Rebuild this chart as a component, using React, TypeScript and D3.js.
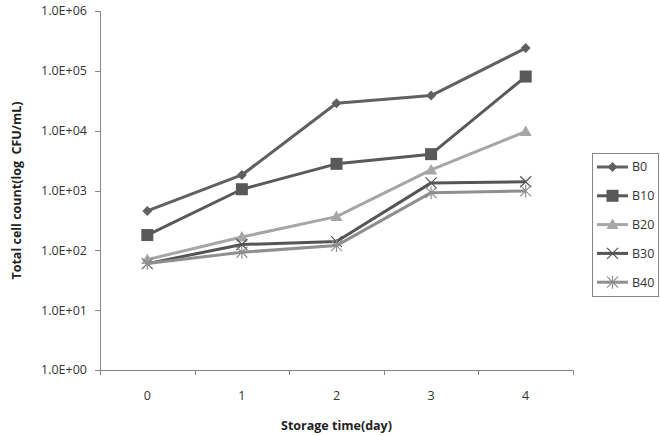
import * as d3 from 'd3';

const days = ['0', '1', '2', '3', '4'];
const seriesNames = ['B0', 'B10', 'B20', 'B30', 'B40'];
const b0 = [455, 1820, 28800, 38600, 240000];
const b10 = [180, 1050, 2790, 4050, 80300];
const b20 = [70, 167, 366, 2210, 9660];
const b30 = [60, 125, 140, 1340, 1400];
const b40 = [60, 93, 120, 920, 985];
const yTicks = [1, 10, 100, 1000, 10000, 100000, 1000000];

const seriesValues = [b0, b10, b20, b30, b40];
const colors = ['#606060', '#595959', '#a6a6a6', '#555555', '#8f8f8f'];
const shapes = ['diamond', 'square', 'triangle', 'x', 'star'];

const W = 660;
const H = 436;
const left = 100;
const right = 573;
const top = 11;
const bottom = 370;
const font = '"Open Sans", "Liberation Sans", sans-serif';
const fs = 12.5;

function Marker({ shape, x, y, color }: { shape: string; x: number; y: number; color: string }) {
  if (shape === 'diamond') {
    const s = 5;
    return <path d={`M${x},${y - s}L${x + s},${y}L${x},${y + s}L${x - s},${y}Z`} fill={color} />;
  }
  if (shape === 'square') {
    return <rect x={x - 6} y={y - 6} width={12} height={12} fill={color} />;
  }
  if (shape === 'triangle') {
    return <path d={`M${x},${y - 6}L${x + 6},${y + 4.5}L${x - 6},${y + 4.5}Z`} fill={color} />;
  }
  if (shape === 'x') {
    const s = 5.5;
    return (
      <path d={`M${x - s},${y - s}L${x + s},${y + s}M${x - s},${y + s}L${x + s},${y - s}`} stroke={color} strokeWidth={1.2} />
    );
  }
  const s = 5.5;
  return (
    <path
      d={`M${x - s},${y - s}L${x + s},${y + s}M${x - s},${y + s}L${x + s},${y - s}M${x},${y - s - 1}L${x},${y + s + 1}`}
      stroke={color}
      strokeWidth={1.2}
    />
  );
}

export default function App() {
  const x = d3.scaleBand<string>().domain(days).range([left, right]);
  const y = d3.scaleLog().domain([1, 1e6]).range([bottom, top]);
  const cx = (d: string) => (x(d) ?? 0) + x.bandwidth() / 2;
  const line = d3
    .line<number>()
    .x((_, i) => cx(days[i]))
    .y((v) => y(v));
  const fmt = (v: number) => '1.0E+' + String(Math.round(Math.log10(v))).padStart(2, '0');
  const axisColor = '#868686';

  return (
    <svg width={W} height={H} style={{ position: 'absolute', left: 0, top: 0, background: '#fff' }}>
      {/* y axis */}
      <line x1={left + 0.5} x2={left + 0.5} y1={top} y2={bottom} stroke={axisColor} />
      {yTicks.map((t) => (
        <g key={t}>
          <line x1={left - 5} x2={left} y1={Math.round(y(t)) + 0.5} y2={Math.round(y(t)) + 0.5} stroke={axisColor} />
          <text x={left - 13} y={y(t)} dy="0.35em" textAnchor="end" fontFamily={font} fontSize={fs} fill="#333">
            {fmt(t)}
          </text>
        </g>
      ))}
      {/* x axis */}
      <line x1={left} x2={right + 1} y1={bottom + 0.5} y2={bottom + 0.5} stroke={axisColor} />
      {[...days.map((d) => x(d) ?? 0), right].map((p, i) => (
        <line key={i} x1={Math.round(p) + 0.5} x2={Math.round(p) + 0.5} y1={bottom} y2={bottom + 5} stroke={axisColor} />
      ))}
      {days.map((d) => (
        <text key={d} x={cx(d)} y={bottom + 30} textAnchor="middle" fontFamily={font} fontSize={fs} fill="#333">
          {d}
        </text>
      ))}
      <text x={(left + right) / 2} y={430} textAnchor="middle" fontFamily={font} fontSize={fs} fontWeight="bold" fill="#222">
        Storage time(day)
      </text>
      <text
        transform={`translate(21,${(top + bottom) / 2}) rotate(-90)`}
        textAnchor="middle"
        fontFamily={font}
        fontSize={fs}
        fontWeight="bold"
        fill="#222"
        style={{ whiteSpace: 'pre' }}
      >
        {'Total cell count(log  CFU/mL)'}
      </text>
      {/* series */}
      {seriesValues.map((vals, si) => (
        <g key={seriesNames[si]}>
          <path d={line(vals) ?? ''} fill="none" stroke={colors[si]} strokeWidth={3} strokeLinejoin="round" />
          {vals.map((v, i) => (
            <Marker key={i} shape={shapes[si]} x={cx(days[i])} y={y(v)} color={colors[si]} />
          ))}
        </g>
      ))}
      {/* legend */}
      <rect x={592.5} y={153.5} width={66} height={143} fill="#fff" stroke={axisColor} />
      {seriesNames.map((n, i) => {
        const ly = 167 + i * 28.8;
        return (
          <g key={n}>
            <line x1={597} x2={628} y1={ly} y2={ly} stroke={colors[i]} strokeWidth={3} />
            <Marker shape={shapes[i]} x={612.5} y={ly} color={colors[i]} />
            <text x={632} y={ly} dy="0.35em" fontFamily={font} fontSize={fs} fill="#333">
              {n}
            </text>
          </g>
        );
      })}
    </svg>
  );
}
